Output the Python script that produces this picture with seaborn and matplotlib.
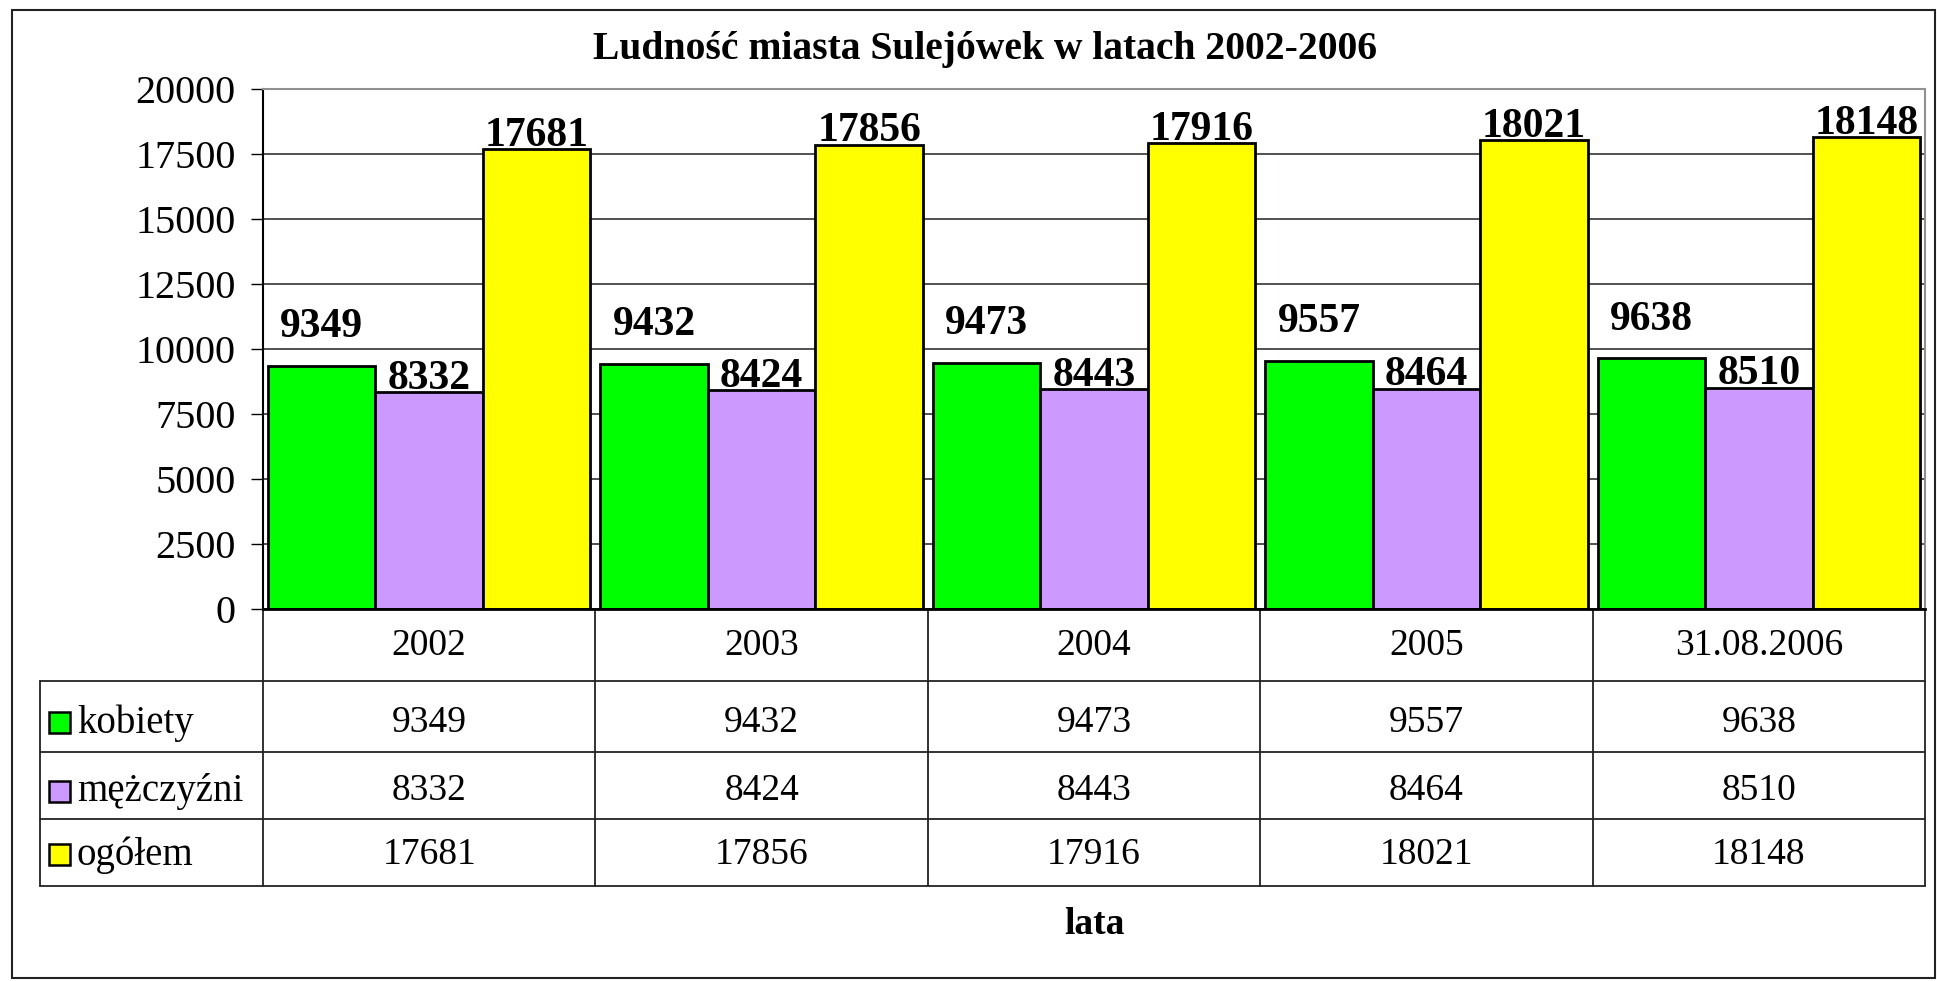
import pandas as pd
import seaborn as sns
import matplotlib
matplotlib.use("Agg")
import matplotlib.pyplot as plt
from matplotlib.lines import Line2D
from matplotlib.patches import Rectangle

# dane
lata = ["2002", "2003", "2004", "2005", "31.08.2006"]
kobiety = [9349, 9432, 9473, 9557, 9638]
mezczyzni = [8332, 8424, 8443, 8464, 8510]
ogolem = [17681, 17856, 17916, 18021, 18148]
serie = ["kobiety", "mężczyźni", "ogółem"]
kolory = ["#00FF00", "#CC99FF", "#FFFF00"]
yticks = [0, 2500, 5000, 7500, 10000, 12500, 15000, 17500, 20000]

sns.set_style("white")
plt.rcParams["font.family"] = ["Liberation Serif", "DejaVu Serif"]
plt.rcParams["text.color"] = "black"
plt.rcParams["ytick.color"] = "black"
plt.rcParams["ytick.labelcolor"] = "black"

W, H = 1937, 981
fig = plt.figure(figsize=(W / 100, H / 100), dpi=100)

# obszar wykresu w pikselach
L, R, T, B = 263, 1925, 89, 609
ax = fig.add_axes([L / W, 1 - B / H, (R - L) / W, (B - T) / H])

df = pd.DataFrame({
    "rok": lata * 3,
    "wartosc": kobiety + mezczyzni + ogolem,
    "seria": [s for s in serie for _ in lata],
})

sns.barplot(data=df, x="rok", y="wartosc", hue="seria", palette=kolory,
            saturation=1, width=0.97, gap=0, edgecolor="black", linewidth=2,
            ax=ax, legend=False)

ax.set_xlim(-0.5, len(lata) - 0.5)
ax.set_ylim(0, 20000)
ax.set_yticks(yticks)
ax.set_yticklabels([str(t) for t in yticks], fontsize=29, color="black")
ax.tick_params(axis="y", direction="out", length=8.6, width=1, left=True,
               pad=11, colors="black")
ax.set_xticks([])
ax.set_xlabel("")
ax.set_ylabel("")
ax.grid(axis="y", color="#333333", linewidth=1.2)
ax.set_axisbelow(True)
for s in ["top", "right"]:
    ax.spines[s].set_color("#909090")
    ax.spines[s].set_linewidth(1.5)
ax.spines["left"].set_color("black")
ax.spines["left"].set_linewidth(1.5)
ax.spines["bottom"].set_color("black")
ax.spines["bottom"].set_linewidth(2)

# etykiety danych
odstepy = [14, -4, -4]
for cont, pad in zip(ax.containers, odstepy):
    ax.bar_label(cont, labels=[str(int(v)) for v in cont.datavalues],
                 padding=pad, fontsize=30, fontweight="bold", color="black")

# tabela danych
wiersze_y = [-0.071, -0.219, -0.350, -0.473]
granice_y = [0, -0.1385, -0.275, -0.404, -0.533]
tr = ax.get_xaxis_transform()
for i, rok in enumerate(lata):
    ax.text(i, wiersze_y[0], rok, transform=tr, ha="center", va="center",
            fontsize=27, clip_on=False)
for r, wartosci in enumerate([kobiety, mezczyzni, ogolem]):
    for i, v in enumerate(wartosci):
        ax.text(i, wiersze_y[r + 1], str(v), transform=tr, ha="center",
                va="center", fontsize=27, clip_on=False)

for k in range(len(lata) + 1):
    ax.plot([k - 0.5, k - 0.5], [0, granice_y[-1]], transform=tr,
            color="#222222", linewidth=1.3, clip_on=False)

x_leg = 40
for gy in granice_y[1:]:
    y_px = B - gy * (B - T)
    fig.add_artist(Line2D([x_leg / W, R / W], [1 - y_px / H, 1 - y_px / H],
                          color="#222222", linewidth=1.3))
y0 = B - granice_y[1] * (B - T)
y1 = B - granice_y[-1] * (B - T)
fig.add_artist(Line2D([x_leg / W, x_leg / W], [1 - y0 / H, 1 - y1 / H],
                      color="#222222", linewidth=1.3))

# legenda w tabeli
for r, (nazwa, kol) in enumerate(zip(serie, kolory)):
    yc = B - wiersze_y[r + 1] * (B - T)
    sq = 21
    fig.add_artist(Rectangle((49 / W, 1 - (yc + sq / 2) / H), sq / W, sq / H,
                             facecolor=kol, edgecolor="black", linewidth=1.8))
    fig.text(77 / W, 1 - yc / H, nazwa, ha="left", va="center", fontsize=28)

# tytul i os
fig.text(985 / W, 1 - 49 / H, "Ludność miasta Sulejówek w latach 2002-2006",
         ha="center", va="center", fontsize=28.5, fontweight="bold")
fig.text((L + R) / 2 / W, 1 - 924 / H, "lata", ha="center", va="center",
         fontsize=27, fontweight="bold")

# ramka wykresu
fig.add_artist(Rectangle((12 / W, 1 - 978 / H), (1935 - 12) / W, (978 - 10) / H,
                         fill=False, edgecolor="#222222", linewidth=1.5))

fig.savefig("out.png", dpi=100)
